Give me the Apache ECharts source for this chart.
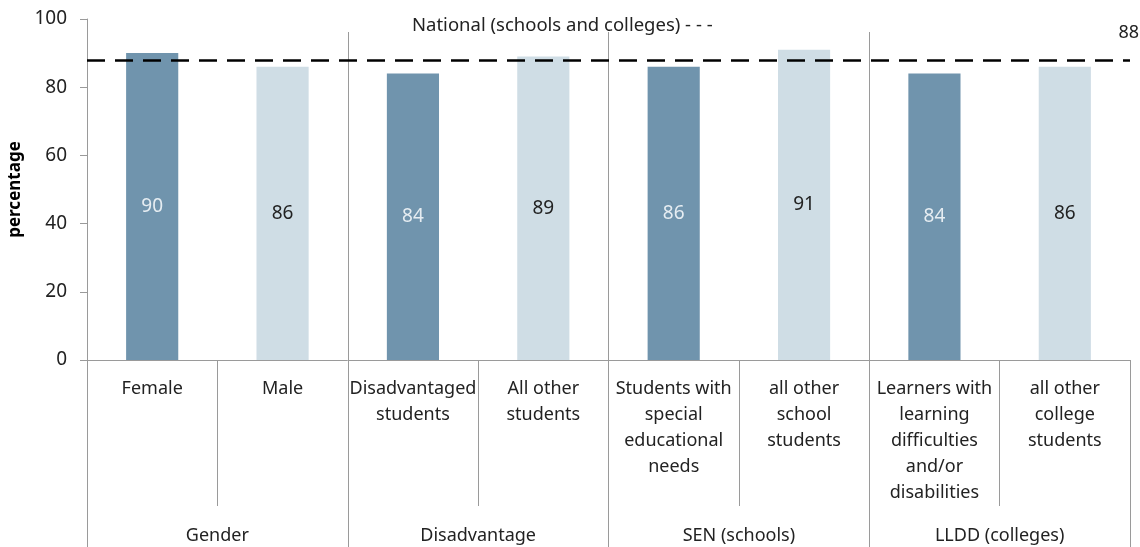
<!DOCTYPE html>
<html lang="en" style="height: 100%">
   <head>
      <meta charset="utf-8">
   </head>
   <body style="height: 100%; margin: 0">
      <div id="container" style="width: 1140px; height: 547px"></div>
      <script type="text/javascript" src="https://fastly.jsdelivr.net/npm/echarts@6.0.0/dist/echarts.min.js"></script>
      <script type="text/javascript">
// data
var categories = ['Female', 'Male', 'Disadvantaged\nstudents', 'All other\nstudents',
  'Students with\nspecial\neducational\nneeds', 'all other\nschool\nstudents',
  'Learners with\nlearning\ndifficulties\nand/or\ndisabilities', 'all other\ncollege\nstudents'];
var values = [90, 86, 84, 89, 86, 91, 84, 86];
var groups = ['Gender', 'Disadvantage', 'SEN (schools)', 'LLDD (colleges)'];
var national = 88;
var nationalText = 'National (schools and colleges) - - -';

var dark = '#7094ad';
var light = '#cfdde5';
var font = 'Noto Sans';

var dom = document.getElementById('container');
var myChart = echarts.init(dom, null, { renderer: 'canvas' });

var option = {
  animation: false,
  textStyle: { fontFamily: font },
  title: {
    text: nationalText,
    left: 407,
    top: 11,
    textStyle: { fontFamily: font, fontSize: 18.5, fontWeight: 'normal', color: '#222' }
  },
  grid: [
    { left: 87, right: 10, top: 19, bottom: 187, outerBoundsMode: 'none' },
    { left: 87, right: 10, top: 32, bottom: 187, outerBoundsMode: 'none' }
  ],
  xAxis: [
    {
      type: 'category',
      data: categories,
      gridIndex: 0,
      axisLine: { lineStyle: { color: '#9a9a9a', width: 1 } },
      axisTick: { show: true, length: 146, lineStyle: { color: '#9a9a9a' } },
      axisLabel: {
        interval: 0,
        margin: 16,
        fontFamily: font,
        fontSize: 18,
        lineHeight: 26,
        color: '#222',
        align: 'center'
      },
      splitLine: { show: false }
    },
    {
      type: 'category',
      data: groups,
      gridIndex: 1,
      position: 'bottom',
      axisLine: { show: false },
      axisTick: { show: true, length: 187, lineStyle: { color: '#9a9a9a' } },
      axisLabel: {
        interval: 0,
        margin: 163,
        fontFamily: font,
        fontSize: 18,
        lineHeight: 26,
        color: '#222'
      },
      splitLine: {
        show: true,
        showMinLine: false,
        showMaxLine: false,
        lineStyle: { color: '#9a9a9a', width: 1 }
      }
    }
  ],
  yAxis: [
    {
      type: 'value',
      gridIndex: 0,
      min: 0,
      max: 100,
      interval: 20,
      name: 'percentage',
      nameLocation: 'middle',
      nameGap: 59,
      nameTextStyle: { fontFamily: font, fontSize: 17, fontWeight: 'bold', color: '#000' },
      axisLine: { show: true, lineStyle: { color: '#9a9a9a' } },
      axisTick: { show: true, length: 7, lineStyle: { color: '#9a9a9a' } },
      axisLabel: { fontFamily: font, fontSize: 19, color: '#222', margin: 20 },
      splitLine: { show: false }
    },
    {
      type: 'value',
      gridIndex: 1,
      show: false,
      min: 0,
      max: 100
    }
  ],
  series: [
    {
      type: 'bar',
      xAxisIndex: 0,
      yAxisIndex: 0,
      barWidth: '40%',
      data: values.map(function (v, i) {
        return {
          value: v,
          itemStyle: { color: i % 2 ? light : dark },
          label: { color: i % 2 ? '#222' : '#e6edf2' }
        };
      }),
      label: {
        show: true,
        position: 'inside',
        fontFamily: font,
        fontSize: 19
      },
      markLine: {
        silent: true,
        symbol: 'none',
        data: [{ yAxis: national }],
        lineStyle: { color: '#000', width: 2.5, type: [18, 10] },
        label: {
          show: true,
          position: 'insideEndTop',
          formatter: String(national),
          offset: [14, -13],
          fontFamily: font,
          fontSize: 18,
          color: '#222'
        }
      }
    }
  ]
};
myChart.setOption(option);
window.addEventListener('resize', myChart.resize);
      </script>
   </body>
</html>
